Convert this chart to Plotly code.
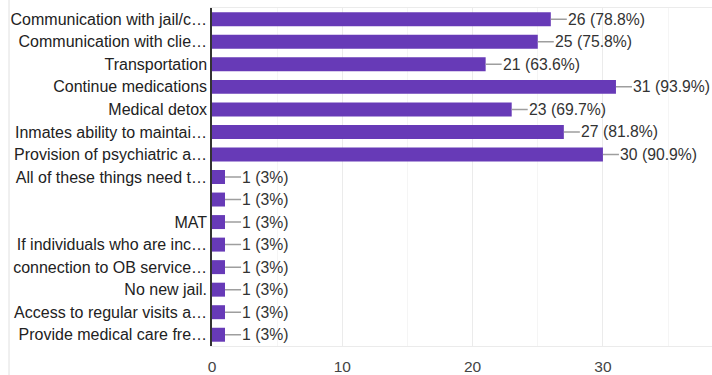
import plotly.graph_objects as go

labels = [
    "Communication with jail/c…",
    "Communication with clie…",
    "Transportation",
    "Continue medications",
    "Medical detox",
    "Inmates ability to maintai…",
    "Provision of psychiatric a…",
    "All of these things need t…",
    "",
    "MAT",
    "If individuals who are inc…",
    "connection to OB service…",
    "No new jail.",
    "Access to regular visits a…",
    "Provide medical care fre…",
]
counts = [26, 25, 21, 31, 23, 27, 30, 1, 1, 1, 1, 1, 1, 1, 1]
percents = ["78.8%", "75.8%", "63.6%", "93.9%", "69.7%", "81.8%", "90.9%",
            "3%", "3%", "3%", "3%", "3%", "3%", "3%", "3%"]
x_ticks = [0, 10, 20, 30]

positions = list(range(len(labels)))
FONT = "Liberation Sans, Arial, sans-serif"

fig = go.Figure()
fig.add_trace(go.Bar(
    x=counts, y=positions, orientation="h",
    marker=dict(color="#673ab7", line=dict(width=0)),
    hoverinfo="skip",
))

for p, c, pc in zip(positions, counts, percents):
    fig.add_annotation(
        x=c, y=p, xref="x", yref="y",
        text=f"{c} ({pc})",
        showarrow=True, arrowhead=0, arrowwidth=1.5, arrowcolor="#9e9e9e",
        ax=16, ay=0, axref="pixel", ayref="pixel",
        xanchor="left", yanchor="middle",
        standoff=0, startstandoff=0, borderpad=0,
        font=dict(family=FONT, size=15.75, color="#333333"),
    )

# left container border
fig.add_shape(type="line", xref="paper", yref="paper",
              x0=-0.406, x1=-0.406, y0=-0.12, y1=1.1,
              line=dict(color="#e0e0e0", width=1))

fig.update_layout(
    width=712, height=375,
    margin=dict(l=212, r=0, t=8, b=29),
    paper_bgcolor="white", plot_bgcolor="white",
    showlegend=False,
    bargap=0.38,
    font=dict(family=FONT, size=16, color="#222222"),
    xaxis=dict(
        range=[0, 38.37],
        tickvals=x_ticks, ticktext=[str(t) for t in x_ticks],
        showgrid=True, gridcolor="#ebebeb", gridwidth=1,
        minor=dict(dtick=5, showgrid=True, gridcolor="#f5f5f5", gridwidth=1),
        zeroline=False,
        showline=True, linecolor="#ebebeb", linewidth=1, mirror=True,
        tickfont=dict(family=FONT, size=15.5, color="#444444"),
        ticks="", ticklen=0, ticklabelstandoff=6,
        fixedrange=True,
    ),
    yaxis=dict(
        tickvals=positions, ticktext=labels,
        autorange="reversed",
        showgrid=False, zeroline=False,
        showline=True, linecolor="#333333", linewidth=1.5,
        ticks="", ticklen=0,
        tickfont=dict(family=FONT, size=16, color="#222222"),
        fixedrange=True,
    ),
)

fig.write_html("out.html", config={"displayModeBar": False},
               post_script="document.body.style.margin='0';")
